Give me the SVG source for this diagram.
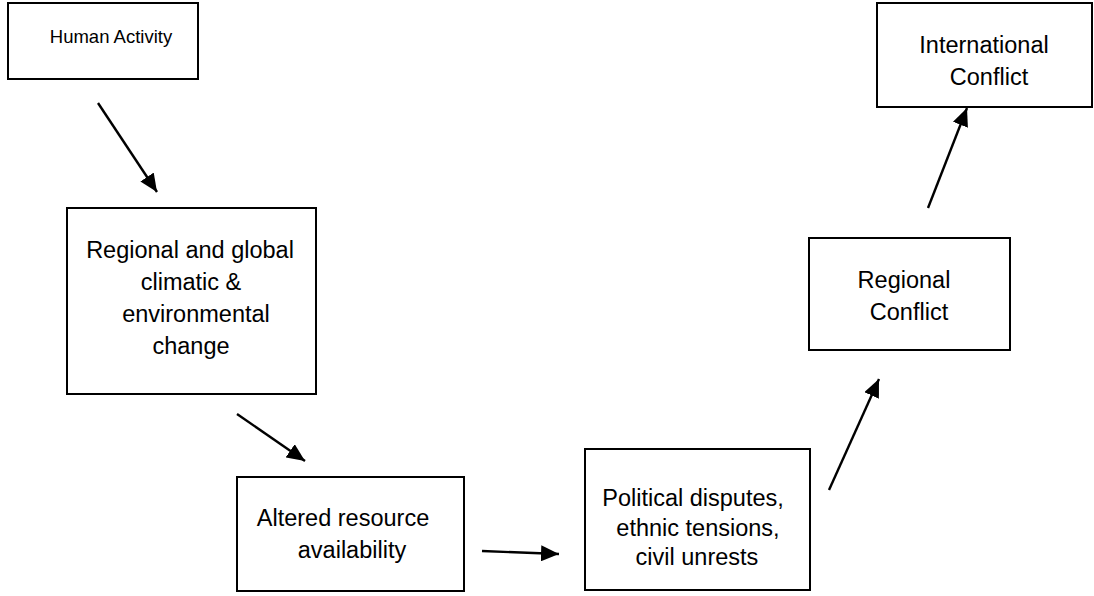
<svg xmlns="http://www.w3.org/2000/svg" width="1094" height="596" viewBox="0 0 1094 596">
<style>
.box{fill:#fff;stroke:#000;stroke-width:2}
.t{font-family:"Liberation Sans",Arial,sans-serif;font-size:23.5px;fill:#000;text-anchor:middle}
.ts{font-family:"Liberation Sans",Arial,sans-serif;font-size:18.5px;fill:#000;text-anchor:middle}
.c{stroke:#000;stroke-width:2.4;fill:none;marker-end:url(#ah)}
</style>
<defs>
<marker id="ah" markerUnits="userSpaceOnUse" markerWidth="20" markerHeight="16" refX="18" refY="8" orient="auto">
<path d="M0,0 L18,8 L0,16 Z" fill="#000"/>
</marker>
</defs>
<rect width="1094" height="596" fill="#fff"/>
<g id="connectors">
<line class="c" x1="98" y1="103" x2="157" y2="192"/>
<line class="c" x1="237" y1="414" x2="305" y2="461"/>
<line class="c" x1="482" y1="551" x2="559" y2="554"/>
<line class="c" x1="829" y1="490" x2="879" y2="379"/>
<line class="c" x1="928" y1="208" x2="967" y2="108"/>
</g>
<g id="human-activity">
<rect class="box" x="8" y="3" width="190" height="76"/>
<text class="ts" x="111" y="43">Human Activity</text>
</g>
<g id="climatic-change">
<rect class="box" x="67" y="208" width="249" height="186"/>
<text class="t" x="190" y="258">Regional and global</text>
<text class="t" x="191" y="290">climatic &amp;</text>
<text class="t" x="196" y="322">environmental</text>
<text class="t" x="191" y="354">change</text>
</g>
<g id="altered-resource">
<rect class="box" x="237" y="477" width="227" height="114"/>
<text class="t" x="343" y="526">Altered resource</text>
<text class="t" x="352" y="558">availability</text>
</g>
<g id="political-disputes">
<rect class="box" x="585" y="449" width="225" height="141"/>
<text class="t" x="693" y="506">Political disputes,</text>
<text class="t" x="698" y="536">ethnic tensions,</text>
<text class="t" x="697" y="565">civil unrests</text>
</g>
<g id="regional-conflict">
<rect class="box" x="809" y="238" width="201" height="112"/>
<text class="t" x="904" y="288">Regional</text>
<text class="t" x="909" y="320">Conflict</text>
</g>
<g id="international-conflict">
<rect class="box" x="877" y="3" width="215" height="104"/>
<text class="t" x="984" y="53">International</text>
<text class="t" x="989" y="85">Conflict</text>
</g>
</svg>
